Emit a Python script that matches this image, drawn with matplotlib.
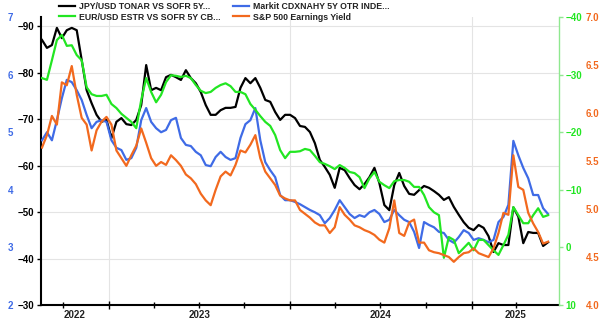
import pandas as pd
import numpy as np
import matplotlib
matplotlib.use("Agg")
import matplotlib.pyplot as plt
import matplotlib.dates as mdates

plt.rcParams["font.family"] = ["Liberation Sans", "DejaVu Sans"]
plt.rcParams["font.weight"] = "bold"

# ~10-day samples
dates = pd.date_range("2022-08-19", periods=103, freq="10D")

jpy_tonar = [
    -87.0, -85.3, -85.9, -89.6, -87.4, -89.1, -89.6, -89.1, -82.7, -76.2,
    -73.4, -70.9, -69.4, -69.8, -65.9, -69.4, -70.2, -68.9, -68.7, -69.8,
    -73.0, -81.6, -76.2, -76.7, -76.2, -79.0, -79.5, -79.0, -78.4, -80.5,
    -78.8, -77.7, -75.8, -73.0, -70.9, -70.9, -71.9, -72.4, -72.4, -72.6,
    -76.7, -78.8, -77.7, -78.8, -76.7, -74.1, -73.7, -71.5, -69.8, -70.9,
    -70.9, -70.2, -68.5, -68.3, -67.2, -64.8, -61.2, -59.7, -58.0, -55.2,
    -59.5, -59.0, -57.3, -55.8, -54.9, -56.0, -57.5, -59.5, -56.2, -51.5,
    -50.4, -55.8, -58.4, -55.6, -53.9, -53.7, -54.7, -55.6, -55.2, -54.5,
    -53.7, -52.6, -53.2, -51.1, -49.4, -47.8, -46.6, -46.1, -47.2, -46.6,
    -44.8, -41.4, -43.3, -42.9, -42.9, -51.0, -49.0, -43.3, -45.7, -45.5,
    -45.5, -42.7, -43.5,
]

cdx_hy = [
    4.86, 5.00, 4.86, 5.21, 5.59, 5.91, 5.87, 5.73, 5.56, 5.30,
    5.07, 5.18, 5.21, 5.18, 4.86, 4.73, 4.69, 4.52, 4.55, 4.73,
    5.21, 5.42, 5.18, 5.07, 5.00, 5.04, 5.21, 5.25, 4.90, 4.78,
    4.76, 4.66, 4.60, 4.43, 4.41, 4.57, 4.66, 4.57, 4.52, 4.55,
    4.90, 5.14, 5.21, 5.42, 4.86, 4.48, 4.34, 4.22, 3.91, 3.82,
    3.82, 3.79, 3.75, 3.70, 3.65, 3.61, 3.56, 3.42, 3.51, 3.65,
    3.82, 3.70, 3.58, 3.51, 3.56, 3.53, 3.61, 3.65, 3.58, 3.44,
    3.48, 3.65, 3.56, 3.48, 3.44, 3.27, 2.99, 3.44, 3.39, 3.35,
    3.27, 3.25, 3.13, 3.08, 3.18, 3.30, 3.25, 3.13, 3.16, 3.13,
    3.09, 3.13, 3.44, 3.53, 3.74, 4.85, 4.60, 4.38, 4.20, 3.91,
    3.91, 3.68, 3.58,
]

eur_estr = [
    -29.4, -29.1, -32.5, -36.0, -36.9, -35.0, -35.1, -33.4, -32.5, -27.8,
    -26.6, -26.3, -26.3, -26.5, -24.9, -24.2, -23.2, -22.5, -21.8, -20.7,
    -25.6, -29.4, -27.0, -25.2, -26.5, -28.7, -29.9, -29.8, -29.6, -29.8,
    -29.4, -28.2, -27.2, -26.8, -27.0, -27.7, -28.2, -28.5, -28.0, -27.0,
    -27.0, -26.6, -24.9, -23.9, -22.8, -21.8, -21.1, -19.5, -16.9, -15.5,
    -16.6, -16.6, -16.7, -17.1, -16.9, -15.9, -14.8, -14.5, -14.1, -13.6,
    -14.3, -13.8, -13.1, -12.9, -12.2, -10.3, -12.0, -13.1, -11.4, -10.8,
    -10.3, -11.5, -11.7, -11.7, -11.4, -10.5, -10.5, -9.1, -7.0, -6.1,
    -5.6, 1.8, -1.8, -1.3, 1.0, 0.1, -0.8, 0.5, -1.3, -1.3,
    -0.4, 0.5, 1.3, -0.4, -2.2, -7.0, -5.6, -4.2, -4.2, -5.6,
    -6.8, -5.3, -5.6,
]

spx_ey = [
    5.64, 5.77, 5.97, 5.88, 6.32, 6.29, 6.49, 6.19, 5.95, 5.88,
    5.61, 5.82, 5.91, 5.96, 5.88, 5.61, 5.53, 5.45, 5.56, 5.66,
    5.84, 5.69, 5.53, 5.45, 5.49, 5.46, 5.56, 5.51, 5.45, 5.36,
    5.32, 5.26, 5.16, 5.09, 5.04, 5.20, 5.34, 5.39, 5.35, 5.46,
    5.61, 5.59, 5.67, 5.77, 5.53, 5.39, 5.32, 5.25, 5.14, 5.11,
    5.09, 5.09, 4.99, 4.95, 4.91, 4.86, 4.83, 4.83, 4.75, 4.81,
    5.02, 4.94, 4.89, 4.83, 4.81, 4.78, 4.76, 4.73, 4.68, 4.65,
    4.80, 5.09, 4.75, 4.72, 4.86, 4.89, 4.65, 4.65, 4.57, 4.55,
    4.54, 4.52, 4.50, 4.45, 4.50, 4.54, 4.55, 4.59, 4.54, 4.52,
    4.50, 4.59, 4.75, 4.96, 4.94, 5.56, 5.23, 5.20, 4.96, 4.85,
    4.76, 4.64, 4.66,
]

labels = [
    "JPY/USD TONAR VS SOFR 5Y...",
    "Markit CDXNAHY 5Y OTR INDE...",
    "EUR/USD ESTR VS SOFR 5Y CB...",
    "S&P 500 Earnings Yield",
]
years = ["2022", "2023", "2024", "2025"]

BLACK = "#000000"
BLUE = "#3f6be6"
GREEN = "#22e622"
ORANGE = "#f2691e"

fig = plt.figure(figsize=(6.09, 3.27), dpi=100)
ax = fig.add_axes([41 / 609, 22 / 327, 518 / 609, 288 / 327])
ax_b = ax.twinx()
ax_g = ax.twinx()
ax_o = ax.twinx()

lw = 1.6
l_black, = ax.plot(dates, jpy_tonar, color=BLACK, lw=lw)
l_blue, = ax_b.plot(dates, cdx_hy, color=BLUE, lw=lw)
l_green, = ax_g.plot(dates, eur_estr, color=GREEN, lw=lw)
l_orange, = ax_o.plot(dates, spx_ey, color=ORANGE, lw=lw)

x0, x1 = pd.Timestamp("2022-08-17"), pd.Timestamp("2025-06-26")
ax.set_xlim(x0, x1)

# black axis (left, inverted)
ax.set_ylim(-30, -91.94)
ax.set_yticks(np.arange(-90, -29, 10))
ax.tick_params(axis="y", colors=BLACK, labelsize=7, length=3, width=1, pad=2)
for s in ["top", "right"]:
    ax.spines[s].set_visible(False)
ax.spines["left"].set_linewidth(1.5)
ax.spines["bottom"].set_linewidth(1.5)

# x axis: year ticks + quarterly minor ticks, labels centred on visible years
ax.xaxis.set_major_locator(mdates.YearLocator())
ax.xaxis.set_minor_locator(mdates.MonthLocator(bymonth=[1, 4, 7, 10]))
ax.xaxis.set_major_formatter(plt.NullFormatter())
ax.tick_params(axis="x", which="major", direction="inout", length=6, width=1)
ax.tick_params(axis="x", which="minor", direction="inout", length=4, width=1)
ax.grid(True, which="major", color="#e4e4e4", lw=0.8)
ax.set_axisbelow(True)

trans = ax.get_xaxis_transform()
for yr in years:
    a = max(pd.Timestamp(f"{yr}-01-01"), x0)
    b = min(pd.Timestamp(f"{int(yr) + 1}-01-01"), x1)
    mid = a + (b - a) / 2
    ax.text(mid, -0.018, yr, transform=trans, ha="center", va="top",
            fontsize=7, fontweight="bold", color="#222222")

# blue axis (outer left)
ax_b.set_ylim(2, 7.001)
ax_b.set_yticks(np.arange(2, 8, 1))
ax_b.yaxis.tick_left()
ax_b.spines["left"].set_position(("outward", 17))
ax_b.tick_params(axis="y", length=0, pad=3, labelsize=7, labelcolor=BLUE)

# green axis (inner right, inverted)
ax_g.set_ylim(10, -40.01)
ax_g.set_yticks(np.arange(-40, 11, 10))
ax_g.spines["right"].set_color("#8fe88f")
ax_g.spines["right"].set_linewidth(1.0)
ax_g.tick_params(axis="y", length=3, width=1, color="#8fe88f", pad=1.5,
                 labelsize=7, labelcolor=GREEN)

# orange axis (outer right)
ax_o.set_ylim(4, 7.001)
ax_o.set_yticks([4.0, 4.5, 5.0, 5.5, 6.0, 6.5, 7.0])
ax_o.yaxis.set_major_formatter(plt.FormatStrFormatter("%.1f"))
ax_o.spines["right"].set_position(("outward", 19))
ax_o.tick_params(axis="y", length=0, pad=0, labelsize=7, labelcolor=ORANGE)

for a in (ax_b, ax_g, ax_o):
    for s in ["top", "bottom", "left", "right"]:
        if not (a is ax_g and s == "right"):
            a.spines[s].set_visible(False)

fig.legend([l_black, l_green, l_blue, l_orange],
           [labels[0], labels[2], labels[1], labels[3]],
           ncol=2, loc="upper left", bbox_to_anchor=(57 / 609, 1.0),
           frameon=False, handlelength=1.9, handletextpad=0.4,
           columnspacing=1.4, labelspacing=0.2, borderpad=0.2,
           borderaxespad=0, labelcolor="#222222",
           prop={"weight": "bold", "size": 6.3})

fig.savefig("out.png", dpi=100)
